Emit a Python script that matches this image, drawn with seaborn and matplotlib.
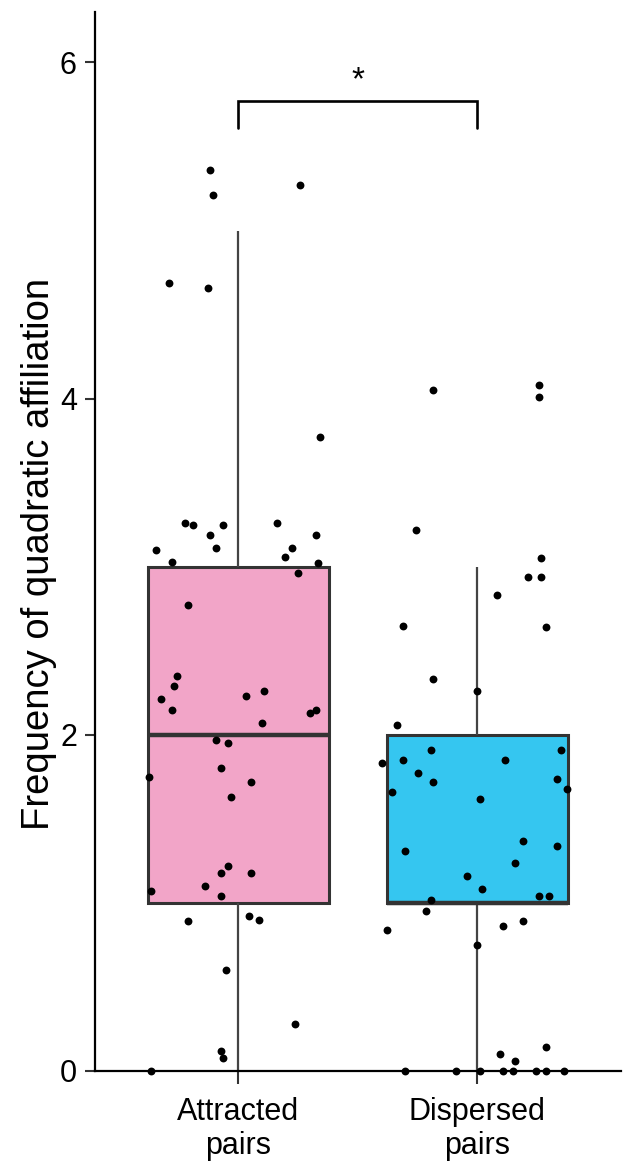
import numpy as np
import pandas as pd
import seaborn as sns
import matplotlib
matplotlib.use("Agg")
import matplotlib.pyplot as plt

# Group names and axis text
groups = ["Attracted pairs", "Dispersed pairs"]
tick_labels = ["Attracted\npairs", "Dispersed\npairs"]
y_label = "Frequency of quadratic affiliation"
y_ticks = [0, 2, 4, 6]

# Jittered observations: plotted height and horizontal offset from group centre
attracted_y = [5.36, 5.21, 5.27, 4.69, 4.66, 3.77,
               3.26, 3.25, 3.25, 3.19, 3.11, 3.10, 3.03, 3.26, 3.19, 3.11,
               3.06, 3.02, 2.96, 2.77, 2.35, 2.29, 2.21, 2.15, 2.23, 2.26,
               2.15, 2.13, 2.07, 1.97, 1.95,
               1.80, 1.75, 1.72, 1.63, 1.22, 1.18, 1.18, 1.10, 1.07, 1.04,
               0.89, 0.92, 0.90, 0.60, 0.28, 0.12, 0.08, 0.00]
attracted_dx = [-0.117, -0.106, 0.259, -0.289, -0.128, 0.343,
                -0.225, -0.191, -0.063, -0.117, -0.095, -0.343, -0.279, 0.162,
                0.324, 0.226, 0.194, 0.335, 0.248, -0.213, -0.257, -0.268,
                -0.322, -0.279, 0.033, 0.107, 0.324, 0.301, 0.098, -0.095,
                -0.042,
                -0.074, -0.375, 0.054, -0.031, -0.042, -0.074, 0.054, -0.138,
                -0.364, -0.074, -0.213, 0.043, 0.087, -0.053, 0.236, -0.074,
                -0.063, -0.364]

dispersed_y = [4.05, 4.08, 4.01, 3.22, 3.05, 2.94, 2.94, 2.83, 2.65, 2.64,
               2.33, 2.26, 2.06,
               1.91, 1.91, 1.83, 1.85, 1.85, 1.77, 1.72, 1.66, 1.74, 1.68,
               1.62, 1.37, 1.34, 1.31, 1.24, 1.16, 1.08, 1.02, 1.04, 1.04,
               0.95, 0.84, 0.86, 0.89, 0.75, 0.10, 0.06, 0.14,
               0.00, 0.00, 0.00, 0.00, 0.00, 0.00, 0.00, 0.00]
dispersed_dx = [-0.184, 0.256, 0.256, -0.258, 0.266, 0.213, 0.266, 0.084,
                -0.313, 0.289, -0.184, 0.000, -0.335,
                -0.195, 0.351, -0.399, -0.313, 0.116, -0.248, -0.184, -0.356,
                0.332, 0.375, 0.010, 0.191, 0.332, -0.301, 0.159, -0.045,
                0.021, -0.195, 0.256, 0.300, -0.216, -0.377, 0.106, 0.191,
                -0.001, 0.095, 0.159, 0.285,
                -0.301, -0.088, 0.010, 0.106, 0.149, 0.246, 0.285, 0.364]

box_colors = ["#F2A5C8", "#35C6F0"]
significance = "*"

# Long-form table; the box statistics use the underlying integer counts
df = pd.DataFrame({
    "group": [groups[0]] * len(attracted_y) + [groups[1]] * len(dispersed_y),
    "shown": attracted_y + dispersed_y,
    "dx": attracted_dx + dispersed_dx,
})
df["count"] = np.rint(df["shown"])
df["xpos"] = df["group"].map({g: i for i, g in enumerate(groups)}) + df["dx"]

sns.set_theme(style="white")
plt.rcParams["font.family"] = ["Liberation Sans", "DejaVu Sans"]
plt.rcParams["text.color"] = "black"
plt.rcParams["axes.labelcolor"] = "black"
plt.rcParams["xtick.color"] = "black"
plt.rcParams["ytick.color"] = "black"

fig = plt.figure(figsize=(6.23, 11.65), dpi=100)
ax = fig.add_axes([0.1525, 0.0807, 0.844, 0.909])

line_col = "#333333"
sns.boxplot(data=df, x="group", y="count", hue="group", order=groups,
            palette=box_colors, saturation=1, legend=False, width=0.757,
            whis=1.5, showfliers=False, linewidth=2.2, linecolor=line_col,
            medianprops={"linewidth": 3.2, "color": line_col},
            whiskerprops={"linewidth": 1.6, "color": "#444444"},
            capprops={"linewidth": 0}, ax=ax)

sns.scatterplot(data=df, x="xpos", y="shown", color="black", s=32,
                edgecolor="black", linewidth=0, ax=ax, zorder=5, clip_on=False)

# Significance bracket
y_bar, y_tip = 5.77, 5.61
ax.plot([0, 0, 1, 1], [y_tip, y_bar, y_bar, y_tip], color="black",
        linewidth=1.9, solid_joinstyle="miter")
ax.text(0.5, 5.80, significance, ha="center", va="bottom", fontsize=24,
        color="black")

ax.set_xlim(-0.6, 1.6)
ax.set_ylim(0, 6.3)
ax.set_yticks(y_ticks)
ax.set_yticklabels([str(t) for t in y_ticks])
ax.set_xticks([0, 1])
ax.set_xticklabels(tick_labels, fontsize=22, linespacing=1.15)
ax.tick_params(axis="y", labelsize=22, length=7, width=1.5, color="#333333",
               labelcolor="black", left=True, pad=6)
ax.tick_params(axis="x", length=9, width=1.5, color="#333333",
               labelcolor="black", bottom=True, pad=10)
ax.set_xlabel("")
ax.set_ylabel(y_label, fontsize=27.5, labelpad=2, color="black")
ax.yaxis.label.set_y(0.488)

for side in ["top", "right"]:
    ax.spines[side].set_visible(False)
for side in ["left", "bottom"]:
    ax.spines[side].set_color("black")
    ax.spines[side].set_linewidth(1.6)

fig.savefig("out.png", dpi=100, facecolor="white")
